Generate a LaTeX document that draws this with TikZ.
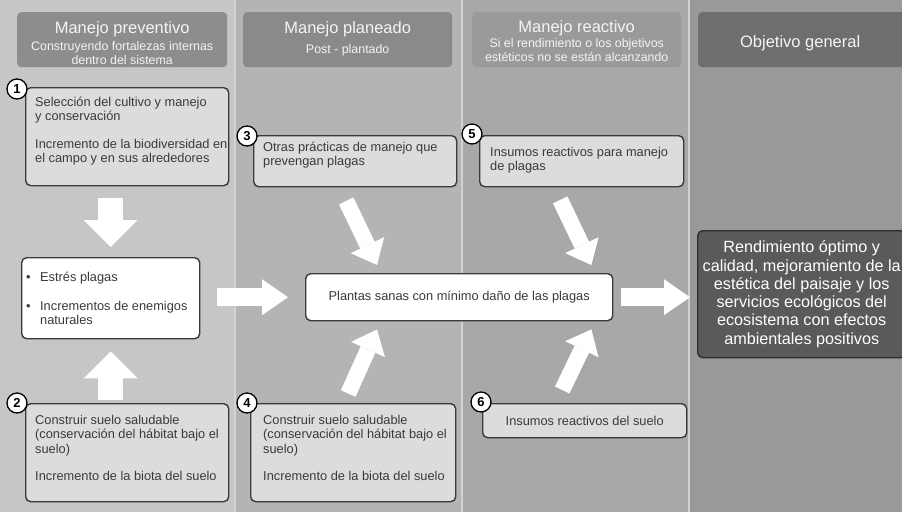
\documentclass[tikz,border=0pt]{standalone}
\usepackage{fontspec}
\setmainfont{Liberation Sans}
\usetikzlibrary{arrows.meta}
\definecolor{colA}{HTML}{C6C6C6}
\definecolor{colB}{HTML}{B4B4B4}
\definecolor{colC}{HTML}{A8A8A8}
\definecolor{colD}{HTML}{999999}
\definecolor{hdA}{HTML}{8D8D8D}
\definecolor{hdB}{HTML}{8A8A8A}
\definecolor{hdC}{HTML}{9A9A9A}
\definecolor{hdD}{HTML}{6E6E6E}
\definecolor{hdtxt}{HTML}{F4F4F4}
\definecolor{sepc}{HTML}{D2D2D2}
\definecolor{boxg}{HTML}{DCDCDC}
\definecolor{bdr}{HTML}{3A3A3A}
\definecolor{txtc}{HTML}{3A3A3A}
\definecolor{objf}{HTML}{5A5A5A}
\definecolor{objb}{HTML}{2E2E2E}
\begin{document}
\begin{tikzpicture}[x=1pt,y=-1pt,
  hdr/.style={rounded corners=4pt, inner sep=0pt, anchor=north west},
  htitle/.style={font=\fontsize{16.5}{18}\selectfont, text=hdtxt, inner sep=0pt},
  hsub/.style={font=\fontsize{12.4}{14}\selectfont, text=hdtxt, inner sep=0pt, align=center},
  gbox/.style={draw=bdr, line width=1.4pt, fill=boxg, rounded corners=5pt, inner sep=0pt, anchor=north west},
  wbox/.style={gbox, fill=white},
  btxt/.style={font=\fontsize{12.8}{14.5}\selectfont, text=txtc, align=left, inner sep=0pt, anchor=north west},
  numc/.style={circle, draw=black, line width=1.3pt, fill=white, minimum size=20pt, inner sep=0pt, font=\bfseries\fontsize{13}{13}\selectfont},
  varrow/.style={draw=white, line width=25pt, -{Triangle[width=54pt,length=27pt,line width=0pt]}},
  harrow/.style={draw=white, line width=18pt, -{Triangle[width=36pt,length=26pt,line width=0pt]}},
  darrow/.style={draw=white, line width=16pt, -{Triangle[width=37pt,length=22pt,line width=0pt]}}
]
\useasboundingbox (0,0) rectangle (902,512);
% column backgrounds
\fill[colA] (0,0) rectangle (235,512);
\fill[colB] (235,0) rectangle (462,512);
\fill[colC] (462,0) rectangle (689,512);
\fill[colD] (689,0) rectangle (902,512);
\draw[sepc, line width=1.5pt] (235,0) -- (235,512) (462,0) -- (462,512) (689,0) -- (689,512);

% headers
\node[hdr, fill=hdA, minimum width=210pt, minimum height=55pt] (h1) at (17,12) {};
\node[hdr, fill=hdB, minimum width=209pt, minimum height=55pt] (h2) at (243,12) {};
\node[hdr, fill=hdC, minimum width=209pt, minimum height=55pt] (h3) at (472,12) {};
\node[hdr, fill=hdD, minimum width=210pt, minimum height=55pt] (h4) at (698,12) {};

\node[htitle, anchor=base] (h1t) at ([yshift=-21pt]h1.north) {Manejo preventivo};
\node[hsub, anchor=north] (h1s) at ([yshift=-29.5pt]h1.north) {Construyendo fortalezas internas\\dentro del sistema};
\node[htitle, anchor=base] (h2t) at ([yshift=-21pt]h2.north) {Manejo planeado};
\node[hsub, anchor=base] (h2s) at ([yshift=-41pt]h2.north) {Post - plantado};
\node[htitle, anchor=base] (h3t) at ([yshift=-20pt]h3.north) {Manejo reactivo};
\node[hsub, anchor=north] (h3s) at ([yshift=-26.5pt]h3.north) {Si el rendimiento o los objetivos\\estéticos no se están alcanzando};
\node[htitle, anchor=base] (h4t) at ([xshift=-3pt,yshift=-35.5pt]h4.north) {Objetivo general};

% boxes
\node[gbox, minimum width=203pt, minimum height=98pt] (b1) at (25,87) {};
\node[gbox, minimum width=203pt, minimum height=98pt] (b2) at (25,403) {};
\node[gbox, minimum width=203pt, minimum height=51pt] (b3) at (253,135) {};
\node[gbox, minimum width=205pt, minimum height=98pt] (b4) at (250,403) {};
\node[gbox, minimum width=204pt, minimum height=51pt] (b5) at (479,135) {};
\node[gbox, minimum width=204pt, minimum height=34pt, font=\fontsize{12.8}{14.5}\selectfont, text=txtc] (b6) at (482,403) {Insumos reactivos del suelo};
\node[wbox, minimum width=178pt, minimum height=81pt] (es) at (21,257) {};
\node[wbox, minimum width=307pt, minimum height=47pt, font=\fontsize{12.8}{14.5}\selectfont, text=txtc] (pl) at (305,273) {Plantas sanas con mínimo daño de las plagas};
\node[gbox, draw=objb, fill=objf, minimum width=208pt, minimum height=127pt, text=white, align=center, font=\fontsize{16.2}{18.3}\selectfont] (obj) at (697,230) {Rendimiento óptimo y\\calidad, mejoramiento de la\\estética del paisaje y los\\servicios ecológicos del\\ecosistema con efectos\\ambientales positivos};

% box texts
\node[btxt] (b1x) at ([shift={(10pt,-9.7pt)}]b1.north west) {Selección del cultivo y manejo\\y conservación\\[13pt]Incremento de la biodiversidad en\\el campo y en sus alrededores};
\node[btxt] (b2x) at ([shift={(10pt,-11.7pt)}]b2.north west) {Construir suelo saludable\\(conservación del hábitat bajo el\\suelo)\\[13pt]Incremento de la biota del suelo};
\node[btxt] (b3x) at ([shift={(10pt,-6.7pt)}]b3.north west) {Otras prácticas de manejo que\\prevengan plagas};
\node[btxt] (b4x) at ([shift={(13pt,-11.7pt)}]b4.north west) {Construir suelo saludable\\(conservación del hábitat bajo el\\suelo)\\[13pt]Incremento de la biota del suelo};
\node[btxt] (b5x) at ([shift={(11pt,-11.7pt)}]b5.north west) {Insumos reactivos para manejo\\de plagas};
\node[btxt] (esx) at ([shift={(5pt,-14.8pt)}]es.north west) {\makebox[14pt][l]{•}Estrés plagas\\[14.5pt]\makebox[14pt][l]{•}Incrementos de enemigos\\\hspace*{14pt}naturales};

% numbered circles
\node[numc] (c1) at ([shift={(-8pt,-2pt)}]b1.north west) {1};
\node[numc] (c2) at ([shift={(-8pt,0pt)}]b2.north west) {2};
\node[numc] (c3) at ([shift={(-6pt,-1pt)}]b3.north west) {3};
\node[numc] (c4) at ([shift={(-3pt,0pt)}]b4.north west) {4};
\node[numc] (c5) at ([shift={(-7pt,1pt)}]b5.north west) {5};
\node[numc] (c6) at ([shift={(-1pt,1pt)}]b6.north west) {6};

% arrows
\draw[varrow] ([yshift=-12pt]es.north |- b1.south) -- ([yshift=10pt]es.north);
\draw[varrow] ([yshift=3pt]es.south |- b2.north) -- ([yshift=-12pt]es.south);
\draw[harrow] ([xshift=17pt]es.east |- pl.west) -- ([xshift=-17pt]pl.west);
\draw[harrow] ([xshift=8pt]pl.east) -- ([xshift=-7pt]obj.west |- pl.east);
\draw[darrow] ([shift={(-9pt,-13.5pt)}]b3.south) -- ([shift={(72pt,8pt)}]pl.north west);
\draw[darrow] ([shift={(-5pt,9.5pt)}]b4.north) -- ([shift={(72pt,-8pt)}]pl.south west);
\draw[darrow] ([shift={(-21.5pt,-12.5pt)}]b5.south) -- ([shift={(-22pt,8pt)}]pl.north east);
\draw[darrow] ([shift={(-22.5pt,13pt)}]b6.north) -- ([shift={(-22pt,-8pt)}]pl.south east);
\end{tikzpicture}
\end{document}
